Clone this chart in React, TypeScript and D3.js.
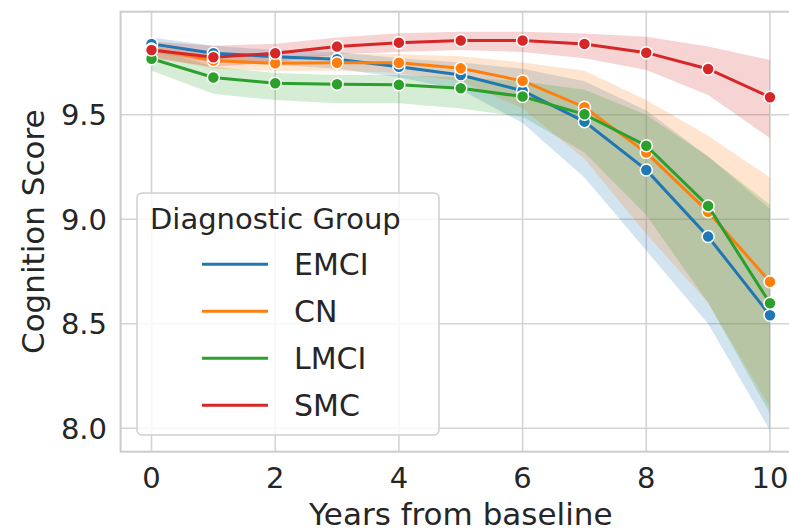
import React from "react";
import * as d3 from "d3";

const years = [0, 1, 2, 3, 4, 5, 6, 7, 8, 9, 10];
const groups = ["EMCI", "CN", "LMCI", "SMC"];
const colors = ["#1f77b4", "#ff7f0e", "#2ca02c", "#d62728"];

const emciMean = [9.839, 9.794, 9.778, 9.766, 9.73, 9.69, 9.615, 9.467, 9.236, 8.917, 8.541];
const emciLow = [9.8, 9.75, 9.74, 9.72, 9.68, 9.62, 9.46, 9.2, 8.85, 8.5, 7.99];
const emciHigh = [9.87, 9.83, 9.81, 9.8, 9.77, 9.75, 9.72, 9.66, 9.52, 9.3, 9.05];

const cnMean = [9.815, 9.759, 9.746, 9.749, 9.749, 9.722, 9.662, 9.536, 9.319, 9.036, 8.701];
const cnLow = [9.78, 9.72, 9.71, 9.71, 9.7, 9.66, 9.53, 9.29, 8.93, 8.6, 8.1];
const cnHigh = [9.85, 9.79, 9.78, 9.79, 9.79, 9.78, 9.75, 9.71, 9.57, 9.4, 9.2];

const lmciMean = [9.768, 9.678, 9.651, 9.646, 9.643, 9.627, 9.587, 9.502, 9.352, 9.064, 8.598];
const lmciLow = [9.71, 9.6, 9.57, 9.555, 9.555, 9.53, 9.49, 9.32, 9.02, 8.6, 8.07];
const lmciHigh = [9.82, 9.73, 9.7, 9.69, 9.69, 9.68, 9.66, 9.62, 9.5, 9.3, 9.07];

const smcMean = [9.81, 9.775, 9.794, 9.826, 9.845, 9.855, 9.855, 9.839, 9.797, 9.719, 9.584];
const smcLow = [9.77, 9.73, 9.75, 9.79, 9.8, 9.81, 9.8, 9.77, 9.714, 9.594, 9.388];
const smcHigh = [9.85, 9.83, 9.84, 9.87, 9.89, 9.897, 9.897, 9.889, 9.873, 9.826, 9.762];

const xTicks = [0, 2, 4, 6, 8, 10];
const yTicks = [8.0, 8.5, 9.0, 9.5];

const series = [
  { mean: emciMean, low: emciLow, high: emciHigh },
  { mean: cnMean, low: cnLow, high: cnHigh },
  { mean: lmciMean, low: lmciLow, high: lmciHigh },
  { mean: smcMean, low: smcLow, high: smcHigh },
];

export default function App() {
  const width = 789;
  const height = 529;
  const font = "DejaVu Sans";
  const ink = "#262626";
  const gridColor = "#d4d4d4";

  const x = d3.scaleLinear().domain([-0.5, 10.5]).range([120.6, 800.9]);
  const y = d3.scaleLinear().domain([7.888, 9.993]).range([451.7, 11.7]);

  const area = d3
    .area<number>()
    .x((d, i) => x(years[i]))
    .y0((d, i) => 0)
    .y1((d, i) => 0);

  const line = d3
    .line<number>()
    .x((d, i) => x(years[i]))
    .y((d) => y(d));

  const band = (s) =>
    d3
      .area<number>()
      .x((d, i) => x(years[i]))
      .y0((d, i) => y(s.low[i]))
      .y1((d, i) => y(s.high[i]))(s.mean);

  const [x0, x1] = x.range();
  const [yb, yt] = y.range();

  return (
    <svg
      width={width}
      height={height}
      style={{ position: "absolute", left: 0, top: 0, background: "#fff" }}
      fontFamily={font}
    >
      {/* grid */}
      {xTicks.map((t) => (
        <line key={"gx" + t} x1={x(t)} x2={x(t)} y1={yt} y2={yb} stroke={gridColor} strokeWidth={1.6} />
      ))}
      {yTicks.map((t) => (
        <line key={"gy" + t} x1={x0} x2={x1} y1={y(t)} y2={y(t)} stroke={gridColor} strokeWidth={1.6} />
      ))}

      {/* confidence bands */}
      {series.map((s, k) => (
        <path key={"b" + k} d={band(s) || ""} fill={colors[k]} fillOpacity={0.2} stroke="none" />
      ))}

      {/* lines and markers */}
      {series.map((s, k) => (
        <g key={"l" + k}>
          <path d={line(s.mean) || ""} fill="none" stroke={colors[k]} strokeWidth={3} />
          {s.mean.map((v, i) => (
            <circle key={i} cx={x(years[i])} cy={y(v)} r={6} fill={colors[k]} stroke="#fff" strokeWidth={1.5} />
          ))}
        </g>
      ))}

      {/* spines */}
      <rect x={x0} y={yt} width={x1 - x0} height={yb - yt} fill="none" stroke="#cccccc" strokeWidth={2} />

      {/* tick labels */}
      {xTicks.map((t) => (
        <text key={"tx" + t} x={x(t)} y={488} textAnchor="middle" fontSize={29} fill={ink}>
          {t}
        </text>
      ))}
      {yTicks.map((t) => (
        <text key={"ty" + t} x={107} y={y(t)} dy="0.36em" textAnchor="end" fontSize={29} fill={ink}>
          {t.toFixed(1)}
        </text>
      ))}

      {/* axis labels */}
      <text x={(x0 + x1) / 2} y={525} textAnchor="middle" fontSize={31} fill={ink}>
        Years from baseline
      </text>
      <text
        transform={`translate(44, ${(yt + yb) / 2}) rotate(-90)`}
        textAnchor="middle"
        fontSize={31}
        fill={ink}
      >
        Cognition Score
      </text>

      {/* legend */}
      <g>
        <rect x={137} y={193} width={302} height={242} rx={5} fill="#fff" fillOpacity={0.8} stroke="#d0d0d0" strokeWidth={1.5} />
        <text x={150} y={229} fontSize={29} fill={ink}>
          Diagnostic Group
        </text>
        {groups.map((g, k) => (
          <g key={g} transform={`translate(0, ${264.3 + k * 47})`}>
            <line x1={202} x2={268} y1={0} y2={0} stroke={colors[k]} strokeWidth={3} />
            <text x={294} y={0} dy="0.36em" fontSize={30} fill={ink}>
              {g}
            </text>
          </g>
        ))}
      </g>
    </svg>
  );
}
